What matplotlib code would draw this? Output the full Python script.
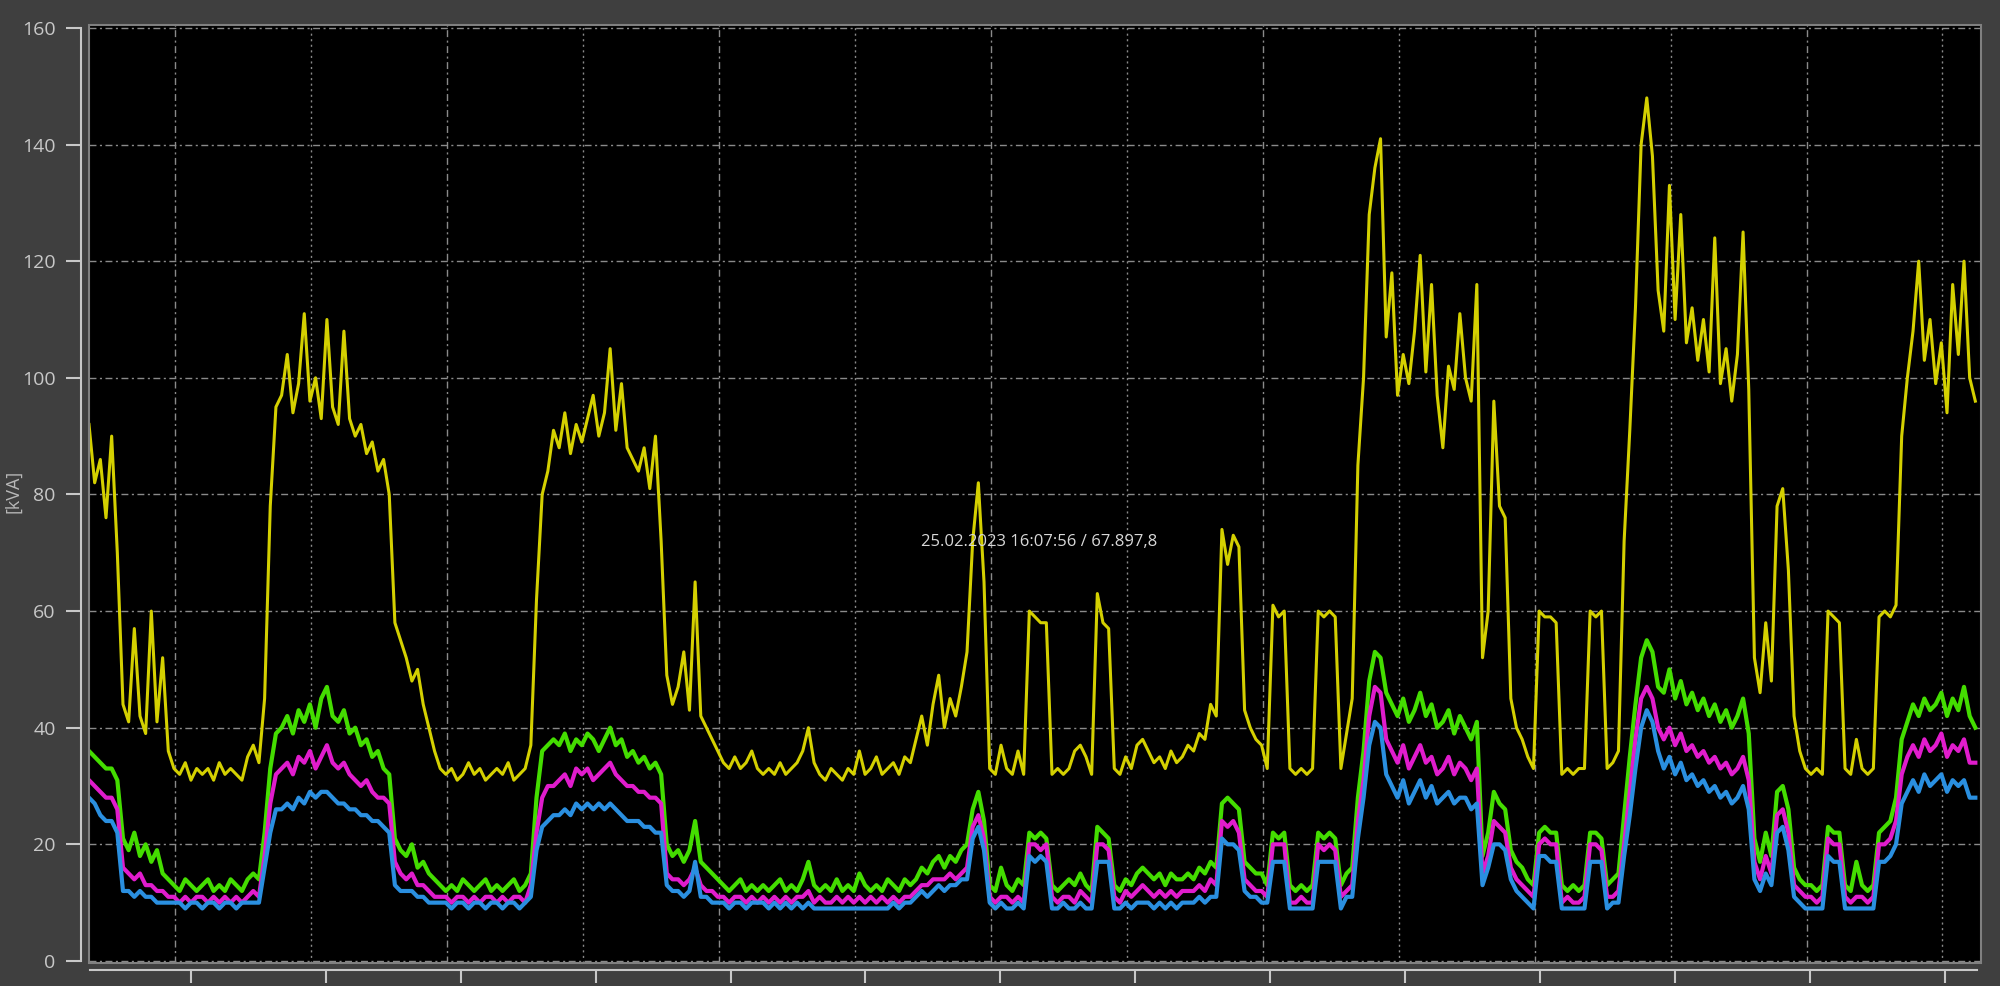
import matplotlib.pyplot as plt
import numpy as np
from matplotlib.patches import Rectangle

plt.rcParams['font.family'] = ['Open Sans', 'DejaVu Sans']

# apparent power, kVA, one value per half hour
total = [
    92, 82, 86, 76, 90, 70,                                   # 0
    44, 41, 57, 42, 39, 60, 41, 52, 36,                       # 6
    33, 32, 34, 31, 33, 32, 33, 31, 34, 32, 33, 32, 31,       # 15
    35, 37, 34, 45, 78,                                       # 28
    95, 97, 104, 94, 99, 111, 96, 100, 93, 110,               # 33
    95, 92, 108, 93, 90, 92, 87, 89, 84, 86, 80,              # 43
    58, 55, 52, 48, 50, 44, 40, 36, 33,                       # 54
    32, 33, 31, 32, 34, 32, 33, 31, 32, 33, 32, 34, 31, 32, 33,   # 63
    37, 62, 80, 84, 91,                                       # 78
    88, 94, 87, 92, 89, 93, 97, 90, 94, 105,                  # 83
    91, 99, 88, 86, 84, 88, 81, 90, 72,                       # 93
    49, 44, 47, 53, 43, 65, 42, 40, 38, 36, 34, 33, 35, 33, 34, 36, 33,   # 102
    32, 33, 32, 34, 32, 33, 34, 36, 40, 34, 32, 31, 33, 32,   # 119
    31, 33, 32, 36, 32, 33, 35, 32, 33, 34, 32, 35, 34,       # 133
    38, 42, 37, 44, 49, 40, 45, 42, 47, 53,                   # 146
    72, 82, 65,                                               # 156
    33, 32, 37, 33, 32, 36, 32,                               # 159
    60, 59, 58, 58,                                           # 166
    32, 33, 32, 33, 36, 37, 35, 32,                           # 170
    63, 58, 57,                                               # 178
    33, 32, 35, 33, 37, 38, 36, 34, 35, 33, 36, 34, 35,       # 181
    37, 36, 39, 38, 44, 42,                                   # 194
    74, 68, 73, 71,                                           # 200
    43, 40, 38, 37, 33,                                       # 204
    61, 59, 60,                                               # 209
    33, 32, 33, 32, 33,                                       # 212
    60, 59, 60, 59,                                           # 217
    33, 39,                                                   # 221
    45, 85, 100, 128, 136, 141, 107,                          # 223
    118, 97, 104, 99, 108, 121, 101, 116, 97, 88, 102, 98, 111, 100, 96, 116,   # 230
    52, 60, 96, 78, 76, 45,                                   # 246
    40, 38, 35, 33,                                           # 252
    60, 59, 59, 58,                                           # 256
    32, 33, 32, 33, 33,                                       # 260
    60, 59, 60,                                               # 265
    33, 34, 36,                                               # 268
    72, 91, 112, 140, 148, 138, 115,                          # 271
    108, 133, 110, 128, 106, 112, 103, 110, 101, 124, 99, 105, 96, 104, 125, 98,   # 278
    52, 46, 58, 48,                                           # 294
    78, 81, 67,                                               # 298
    42, 36, 33, 32, 33, 32,                                   # 301
    60, 59, 58,                                               # 307
    33, 32, 38, 33, 32, 33,                                   # 310
    59, 60, 59,                                               # 316
    61, 90,                                                   # 319
    100, 108, 120, 103, 110, 99, 106, 94, 116, 104, 120, 100, 96,   # 321
]

phase_l1 = [
    36, 35, 34, 33, 33, 31,
    21, 19, 22, 18, 20, 17, 19, 15, 14,
    13, 12, 14, 13, 12, 13, 14, 12, 13, 12, 14, 13, 12,
    14, 15, 14, 22, 33,
    39, 40, 42, 39, 43, 41, 44, 40, 45, 47,
    42, 41, 43, 39, 40, 37, 38, 35, 36, 33, 32,
    21, 19, 18, 20, 16, 17, 15, 14, 13,
    12, 13, 12, 14, 13, 12, 13, 14, 12, 13, 12, 13, 14, 12, 13,
    15, 28, 36, 37, 38,
    37, 39, 36, 38, 37, 39, 38, 36, 38, 40,
    37, 38, 35, 36, 34, 35, 33, 34, 32,
    20, 18, 19, 17, 19, 24, 17, 16, 15, 14, 13, 12, 13, 14, 12, 13, 12,
    13, 12, 13, 14, 12, 13, 12, 14, 17, 13, 12, 13, 12, 14,
    12, 13, 12, 15, 13, 12, 13, 12, 14, 13, 12, 14, 13,
    14, 16, 15, 17, 18, 16, 18, 17, 19, 20,
    26, 29, 24,
    13, 12, 16, 13, 12, 14, 13,
    22, 21, 22, 21,
    13, 12, 13, 14, 13, 15, 13, 12,
    23, 22, 21,
    13, 12, 14, 13, 15, 16, 15, 14, 15, 13, 15, 14, 14,
    15, 14, 16, 15, 17, 16,
    27, 28, 27, 26,
    17, 16, 15, 15, 13,
    22, 21, 22,
    13, 12, 13, 12, 13,
    22, 21, 22, 21,
    13, 15,
    16, 28, 36, 48, 53, 52, 46,
    44, 42, 45, 41, 43, 46, 42, 44, 40, 41, 43, 39, 42, 40, 38, 41,
    18, 22, 29, 27, 26, 19,
    17, 16, 14, 13,
    22, 23, 22, 22,
    13, 12, 13, 12, 13,
    22, 22, 21,
    13, 14, 15,
    25, 35, 44, 52, 55, 53, 47,
    46, 50, 45, 48, 44, 46, 43, 45, 42, 44, 41, 43, 40, 42, 45, 39,
    21, 17, 22, 18,
    29, 30, 26,
    16, 14, 13, 13, 12, 13,
    23, 22, 22,
    13, 12, 17, 13, 12, 13,
    22, 23, 24,
    28, 38,
    41, 44, 42, 45, 43, 44, 46, 42, 45, 43, 47, 42, 40,
]

phase_l2 = [
    31, 30, 29, 28, 28, 26,
    16, 15, 14, 15, 13, 13, 12, 12, 11,
    11, 10, 11, 10, 11, 11, 10, 11, 10, 11, 10, 11, 10,
    11, 12, 11, 18, 27,
    32, 33, 34, 32, 35, 34, 36, 33, 35, 37,
    34, 33, 34, 32, 31, 30, 31, 29, 28, 28, 27,
    17, 15, 14, 15, 13, 13, 12, 11, 11,
    11, 10, 11, 11, 10, 11, 10, 11, 11, 10, 11, 10, 11, 11, 10,
    13, 22, 28, 30, 30,
    31, 32, 30, 33, 32, 33, 31, 32, 33, 34,
    32, 31, 30, 30, 29, 29, 28, 28, 27,
    15, 14, 14, 13, 14, 16, 13, 12, 12, 11, 11, 10, 11, 11, 10, 11, 10,
    11, 10, 11, 10, 11, 10, 11, 11, 12, 10, 11, 10, 10, 11,
    10, 11, 10, 11, 10, 11, 10, 11, 10, 11, 10, 11, 11,
    12, 13, 13, 14, 14, 14, 15, 14, 15, 16,
    23, 25, 21,
    11, 10, 11, 11, 10, 11, 10,
    20, 20, 19, 20,
    11, 10, 11, 11, 10, 12, 11, 10,
    20, 20, 19,
    11, 10, 12, 11, 12, 13, 12, 11, 12, 11, 12, 11, 12,
    12, 12, 13, 12, 14, 13,
    24, 23, 24, 22,
    14, 13, 12, 12, 11,
    20, 20, 20,
    10, 10, 11, 10, 10,
    20, 19, 20, 19,
    11, 12,
    13, 24, 31, 42, 47, 46, 38,
    36, 34, 37, 33, 35, 37, 34, 35, 32, 33, 35, 32, 34, 33, 31, 33,
    15, 18, 24, 23, 22, 16,
    14, 13, 12, 11,
    20, 21, 20, 20,
    10, 11, 10, 10, 11,
    20, 20, 19,
    11, 11, 12,
    20, 29, 38, 45, 47, 45, 40,
    38, 40, 37, 39, 36, 37, 35, 36, 34, 35, 33, 34, 32, 33, 35, 31,
    17, 14, 18, 15,
    25, 26, 22,
    13, 12, 11, 11, 10, 11,
    21, 20, 20,
    11, 10, 11, 11, 10, 11,
    20, 20, 21,
    24, 32,
    35, 37, 35, 38, 36, 37, 39, 35, 37, 36, 38, 34, 34,
]

phase_l3 = [
    28, 27, 25, 24, 24, 22,
    12, 12, 11, 12, 11, 11, 10, 10, 10,
    10, 10, 9, 10, 10, 9, 10, 10, 9, 10, 10, 9, 10,
    10, 10, 10, 16, 22,
    26, 26, 27, 26, 28, 27, 29, 28, 29, 29,
    28, 27, 27, 26, 26, 25, 25, 24, 24, 23, 22,
    13, 12, 12, 12, 11, 11, 10, 10, 10,
    10, 9, 10, 10, 9, 10, 10, 9, 10, 10, 9, 10, 10, 9, 10,
    11, 19, 23, 24, 25,
    25, 26, 25, 27, 26, 27, 26, 27, 26, 27,
    26, 25, 24, 24, 24, 23, 23, 22, 22,
    13, 12, 12, 11, 12, 17, 11, 11, 10, 10, 10, 9, 10, 10, 9, 10, 10,
    10, 9, 10, 9, 10, 9, 10, 9, 10, 9, 9, 9, 9, 9,
    9, 9, 9, 9, 9, 9, 9, 9, 9, 10, 9, 10, 10,
    11, 12, 11, 12, 13, 12, 13, 13, 14, 14,
    21, 23, 19,
    10, 9, 10, 9, 9, 10, 9,
    18, 17, 18, 17,
    9, 9, 10, 9, 9, 10, 9, 9,
    17, 17, 17,
    9, 9, 10, 9, 10, 10, 10, 9, 10, 9, 10, 9, 10,
    10, 10, 11, 10, 11, 11,
    21, 20, 20, 19,
    12, 11, 11, 10, 10,
    17, 17, 17,
    9, 9, 9, 9, 9,
    17, 17, 17, 17,
    9, 11,
    11, 21, 28, 37, 41, 40, 32,
    30, 28, 31, 27, 29, 31, 28, 30, 27, 28, 29, 27, 28, 28, 26, 27,
    13, 16, 20, 20, 19, 14,
    12, 11, 10, 9,
    18, 18, 17, 17,
    9, 9, 9, 9, 9,
    17, 17, 17,
    9, 10, 10,
    18, 25, 33, 40, 43, 41, 36,
    33, 35, 32, 34, 31, 32, 30, 31, 29, 30, 28, 29, 27, 28, 30, 26,
    14, 12, 15, 13,
    22, 23, 19,
    11, 10, 9, 9, 9, 9,
    18, 17, 17,
    9, 9, 9, 9, 9, 9,
    17, 17, 18,
    20, 27,
    29, 31, 29, 32, 30, 31, 32, 29, 31, 30, 31, 28, 28,
]

assert len(total) == len(phase_l1) == len(phase_l2) == len(phase_l3), \
    (len(total), len(phase_l1), len(phase_l2), len(phase_l3))

step_h = 0.5
cursor_text = '25.02.2023 16:07:56 / 67.897,8'

hours = np.arange(len(total)) * step_h

fg = '#c8c8c8'
grid_c = '#8a8a8a'

fig = plt.figure(figsize=(20, 9.86), dpi=100, facecolor='#3f3f3f')
ax = fig.add_axes([89 / 2000, 1 - 963 / 986, 1892 / 2000, 938 / 986])
ax.set_facecolor('black')
ax.set_xlim(0, 167)
ax.set_ylim(-0.35, 160.5)

# grid
ax.set_yticks(range(0, 161, 20))
ax.yaxis.grid(True, color=grid_c, lw=1, ls=(0, (5, 2.5, 1.5, 2.5)))
for k in range(14):
    ls = (0, (5, 2.5, 1.5, 2.5)) if k % 2 == 0 else (0, (1.5, 2.5))
    ax.axvline(7.6 + 12 * k, color=grid_c, lw=1, ls=ls, zorder=0.5)
ax.set_axisbelow(True)

ax.plot(hours, phase_l1, color='#44dd00', lw=3.0, zorder=2)
ax.plot(hours, phase_l2, color='#e01ccc', lw=3.0, zorder=3)
ax.plot(hours, phase_l3, color='#2a8fe0', lw=3.0, zorder=4)
ax.plot(hours, total, color='#d4d000', lw=2.2, zorder=5)

ax.text(73.4, 71.8, cursor_text, color='#d8d8d8', fontsize=12,
        ha='left', va='center', zorder=6)

# axes cosmetics
for s in ['top', 'right', 'bottom']:
    ax.spines[s].set_visible(False)
ax.spines['left'].set_position(('outward', 6))
ax.spines['left'].set_bounds(0, 160)
ax.spines['left'].set_color(fg)
ax.spines['left'].set_linewidth(1.5)
ax.tick_params(axis='y', length=11, width=1.5, color=fg, labelcolor=fg,
               labelsize=14, pad=7)
ax.tick_params(axis='x', bottom=False, labelbottom=False)
ax.add_patch(Rectangle((0, 0), 1, 1, transform=ax.transAxes, fill=False,
                       ec='#808080', lw=1.5, clip_on=False, zorder=7))

fig.text(13 / 2000, 1 - 491 / 986, '[kVA]', rotation=90, color='#b8b8b8',
         fontsize=13, ha='center', va='center')

# separate time bar under the plot
bx = fig.add_axes([90 / 2000, 1 - 970 / 986, 1887 / 2000, 0.0001])
bx.patch.set_visible(False)
bx.set_xlim(0.09, 166.65)
for s in ['top', 'right', 'left']:
    bx.spines[s].set_visible(False)
bx.spines['bottom'].set_color(fg)
bx.spines['bottom'].set_linewidth(1.5)
bx.set_yticks([])
bx.set_xticks(np.linspace(9.0, 163.8, 14))
bx.tick_params(axis='x', length=9.5, width=1.5, color=fg, labelbottom=False)

fig.savefig('out.png', dpi=100, facecolor=fig.get_facecolor())
